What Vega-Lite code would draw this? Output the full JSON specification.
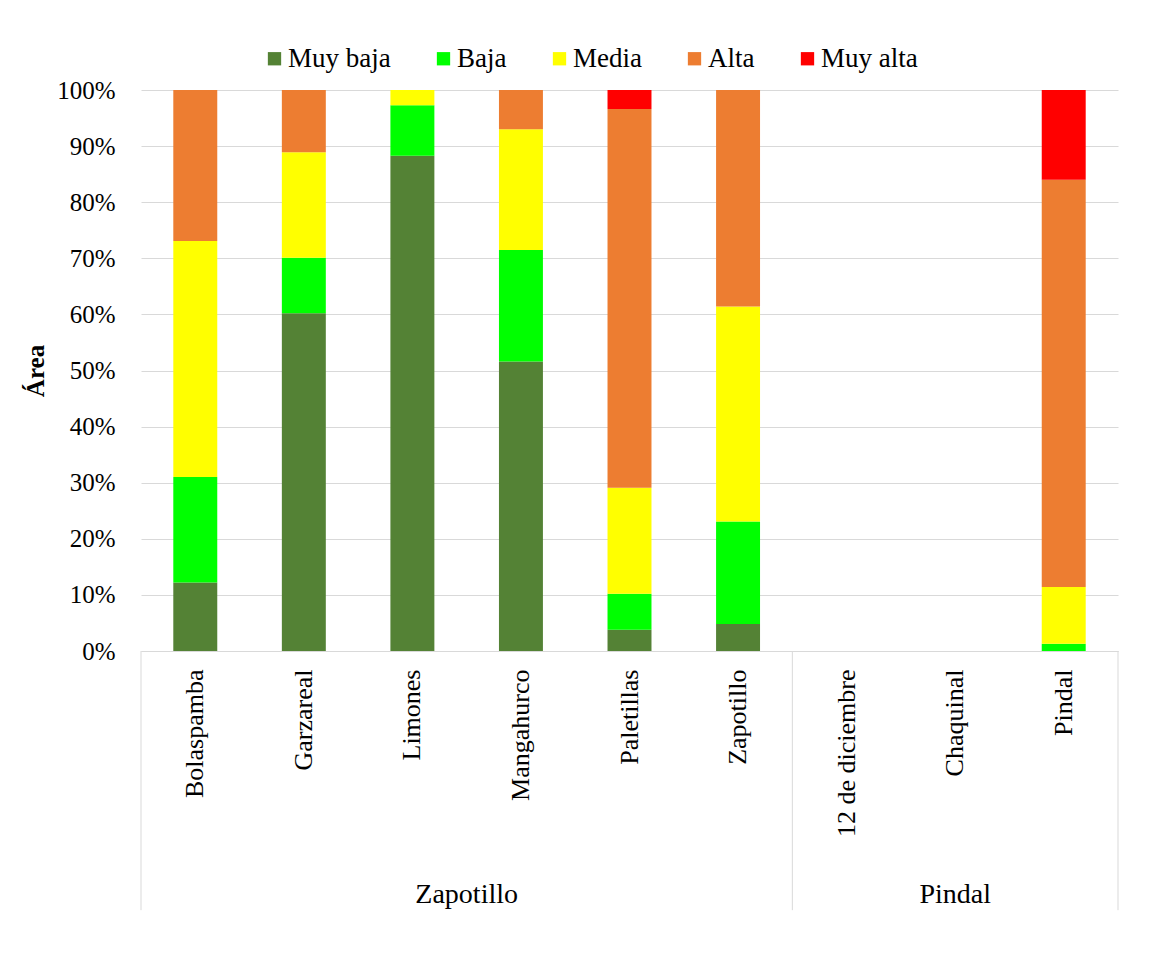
{
  "$schema": "https://vega.github.io/schema/vega-lite/v6.json",
  "width": 977,
  "height": 561,
  "autosize": {"type": "none"},
  "padding": {"left": 141, "top": 90, "right": 45, "bottom": 329},
  "background": "white",
  "config": {
    "font": "Liberation Serif",
    "view": {"stroke": null},
    "text": {"font": "Liberation Serif"},
    "legend": {"labelFont": "Liberation Serif", "titleFont": "Liberation Serif"},
    "axis": {"labelFont": "Liberation Serif", "titleFont": "Liberation Serif"}
  },
  "layer": [
    {
      "data": {
        "values": [
          {"site": "Bolaspamba", "level": "Muy baja", "rank": 1, "pct": 12.2},
          {"site": "Bolaspamba", "level": "Baja", "rank": 2, "pct": 18.8},
          {"site": "Bolaspamba", "level": "Media", "rank": 3, "pct": 42.1},
          {"site": "Bolaspamba", "level": "Alta", "rank": 4, "pct": 26.9},
          {"site": "Garzareal", "level": "Muy baja", "rank": 1, "pct": 60.2},
          {"site": "Garzareal", "level": "Baja", "rank": 2, "pct": 9.9},
          {"site": "Garzareal", "level": "Media", "rank": 3, "pct": 18.8},
          {"site": "Garzareal", "level": "Alta", "rank": 4, "pct": 11.1},
          {"site": "Limones", "level": "Muy baja", "rank": 1, "pct": 88.3},
          {"site": "Limones", "level": "Baja", "rank": 2, "pct": 9.0},
          {"site": "Limones", "level": "Media", "rank": 3, "pct": 2.7},
          {"site": "Mangahurco", "level": "Muy baja", "rank": 1, "pct": 51.6},
          {"site": "Mangahurco", "level": "Baja", "rank": 2, "pct": 19.9},
          {"site": "Mangahurco", "level": "Media", "rank": 3, "pct": 21.5},
          {"site": "Mangahurco", "level": "Alta", "rank": 4, "pct": 7.0},
          {"site": "Paletillas", "level": "Muy baja", "rank": 1, "pct": 3.8},
          {"site": "Paletillas", "level": "Baja", "rank": 2, "pct": 6.4},
          {"site": "Paletillas", "level": "Media", "rank": 3, "pct": 18.9},
          {"site": "Paletillas", "level": "Alta", "rank": 4, "pct": 67.5},
          {"site": "Paletillas", "level": "Muy alta", "rank": 5, "pct": 3.4},
          {"site": "Zapotillo", "level": "Muy baja", "rank": 1, "pct": 4.8},
          {"site": "Zapotillo", "level": "Baja", "rank": 2, "pct": 18.3},
          {"site": "Zapotillo", "level": "Media", "rank": 3, "pct": 38.3},
          {"site": "Zapotillo", "level": "Alta", "rank": 4, "pct": 38.6},
          {"site": "Pindal", "level": "Baja", "rank": 2, "pct": 1.3},
          {"site": "Pindal", "level": "Media", "rank": 3, "pct": 10.1},
          {"site": "Pindal", "level": "Alta", "rank": 4, "pct": 72.6},
          {"site": "Pindal", "level": "Muy alta", "rank": 5, "pct": 16.0}
        ]
      },
      "mark": {"type": "bar", "width": {"band": 0.405}},
      "encoding": {
        "x": {
          "field": "site",
          "type": "nominal",
          "sort": null,
          "scale": {
            "domain": ["Bolaspamba", "Garzareal", "Limones", "Mangahurco", "Paletillas", "Zapotillo", "12 de diciembre", "Chaquinal", "Pindal"],
            "paddingInner": 0,
            "paddingOuter": 0
          },
          "axis": {
            "title": null,
            "labelAngle": -90,
            "labelFont": "Liberation Serif",
            "labelFontSize": 26,
            "labelPadding": 18,
            "labelColor": "black",
            "labelLimit": 300,
            "domainColor": "#d9d9d9",
            "domainWidth": 1,
            "ticks": false,
            "grid": false
          }
        },
        "y": {
          "field": "pct",
          "type": "quantitative",
          "stack": "normalize",
          "scale": {"domain": [0, 1]},
          "axis": {
            "values": [0, 0.1, 0.2, 0.3, 0.4, 0.5, 0.6, 0.7, 0.8, 0.9, 1],
            "format": ".0%",
            "domain": false,
            "ticks": false,
            "labelFont": "Liberation Serif",
            "labelFontSize": 25,
            "labelPadding": 26,
            "labelColor": "black",
            "gridColor": "#d9d9d9",
            "gridWidth": 1,
            "title": "Área",
            "titleFont": "Liberation Serif",
            "titleFontSize": 25,
            "titleFontWeight": "bold",
            "titleColor": "black",
            "titlePadding": 8
          }
        },
        "color": {
          "field": "level",
          "type": "nominal",
          "scale": {
            "domain": ["Muy baja", "Baja", "Media", "Alta", "Muy alta"],
            "range": ["#548235", "#00ff00", "#ffff00", "#ed7d31", "#ff0000"]
          },
          "legend": {
            "orient": "none",
            "legendX": 120,
            "legendY": -45,
            "direction": "horizontal",
            "title": null,
            "symbolType": "square",
            "symbolSize": 177,
            "symbolStrokeWidth": 0,
            "labelFont": "Liberation Serif",
            "labelFontSize": 27,
            "labelColor": "black",
            "labelOffset": 0,
            "columnPadding": 39,
            "padding": 0
          }
        },
        "order": {"field": "rank", "type": "quantitative"}
      }
    },
    {
      "data": {"values": [{"site": "Bolaspamba"}, {"site": "12 de diciembre"}]},
      "mark": {"type": "rule", "color": "#d9d9d9", "strokeWidth": 1},
      "encoding": {
        "x": {
          "field": "site",
          "type": "nominal",
          "bandPosition": 0,
          "scale": {"domain": ["Bolaspamba", "Garzareal", "Limones", "Mangahurco", "Paletillas", "Zapotillo", "12 de diciembre", "Chaquinal", "Pindal"], "paddingInner": 0, "paddingOuter": 0}
        },
        "y": {"datum": 0, "type": "quantitative", "scale": {"domain": [0, 1]}},
        "y2": {"datum": -0.462}
      }
    },
    {
      "data": {"values": [{"site": "Pindal"}]},
      "mark": {"type": "rule", "color": "#d9d9d9", "strokeWidth": 1},
      "encoding": {
        "x": {
          "field": "site",
          "type": "nominal",
          "bandPosition": 1,
          "scale": {"domain": ["Bolaspamba", "Garzareal", "Limones", "Mangahurco", "Paletillas", "Zapotillo", "12 de diciembre", "Chaquinal", "Pindal"], "paddingInner": 0, "paddingOuter": 0}
        },
        "y": {"datum": 0, "type": "quantitative", "scale": {"domain": [0, 1]}},
        "y2": {"datum": -0.462}
      }
    },
    {
      "data": {"values": [{"site": "Limones", "group": "Zapotillo"}]},
      "mark": {"type": "text", "fontSize": 28, "color": "black", "align": "center", "baseline": "alphabetic", "font": "Liberation Serif"},
      "encoding": {
        "x": {
          "field": "site",
          "type": "nominal",
          "bandPosition": 1,
          "scale": {"domain": ["Bolaspamba", "Garzareal", "Limones", "Mangahurco", "Paletillas", "Zapotillo", "12 de diciembre", "Chaquinal", "Pindal"], "paddingInner": 0, "paddingOuter": 0}
        },
        "y": {"datum": -0.449, "type": "quantitative", "scale": {"domain": [0, 1]}},
        "text": {"field": "group"}
      }
    },
    {
      "data": {"values": [{"site": "Chaquinal", "group": "Pindal"}]},
      "mark": {"type": "text", "fontSize": 28, "color": "black", "align": "center", "baseline": "alphabetic", "font": "Liberation Serif"},
      "encoding": {
        "x": {
          "field": "site",
          "type": "nominal",
          "bandPosition": 0.5,
          "scale": {"domain": ["Bolaspamba", "Garzareal", "Limones", "Mangahurco", "Paletillas", "Zapotillo", "12 de diciembre", "Chaquinal", "Pindal"], "paddingInner": 0, "paddingOuter": 0}
        },
        "y": {"datum": -0.449, "type": "quantitative", "scale": {"domain": [0, 1]}},
        "text": {"field": "group"}
      }
    }
  ]
}
